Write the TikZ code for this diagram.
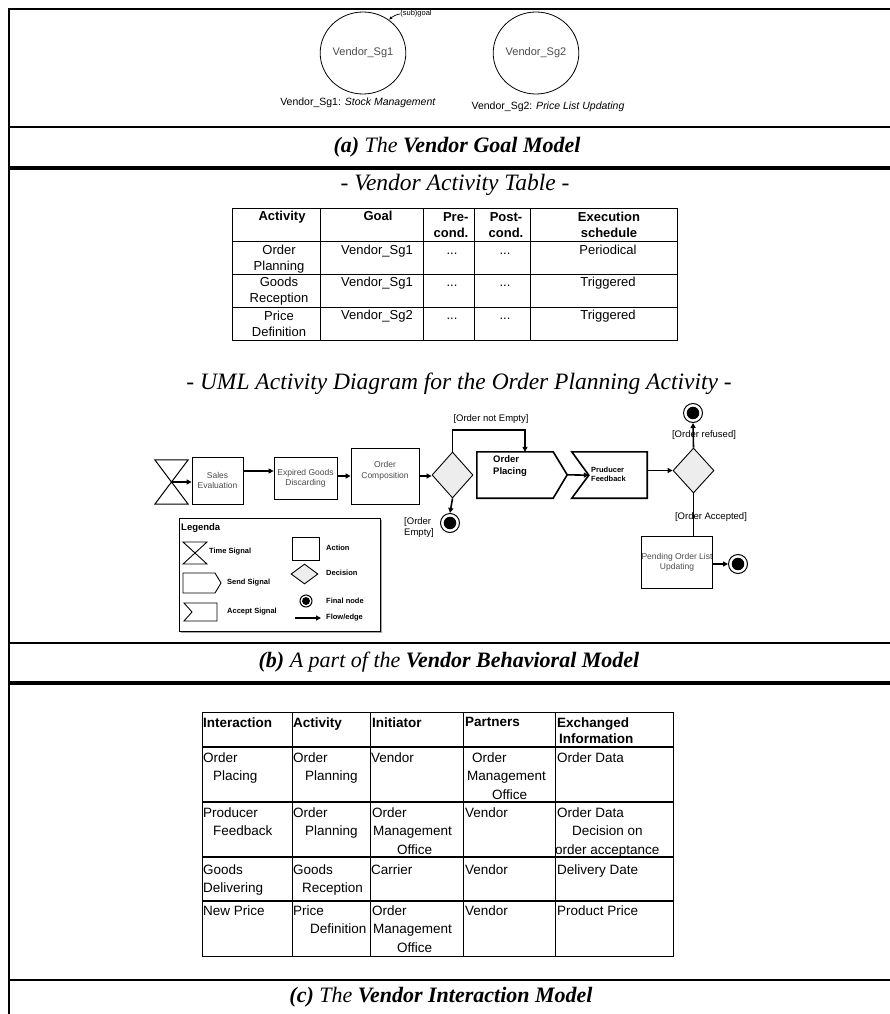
\documentclass[tikz,border=0pt]{standalone}
\usepackage{fontspec}
\setmainfont{Liberation Sans}
\newfontfamily\timesf{Liberation Serif}
\usetikzlibrary{arrows.meta,shapes.geometric,shadows}
\definecolor{decfill}{HTML}{EDEDED}
\definecolor{softtxt}{HTML}{4A4A4A}
\newcommand\myfs[2]{\fontsize{#1}{#2}\selectfont}
\tikzset{
  framethin/.style={line width=1.8pt},
  framethick/.style={line width=4pt},
  capt/.style={inner sep=0, font=\timesf\itshape\myfs{22}{26}},
  subt/.style={inner sep=0, font=\timesf\itshape\myfs{23.5}{28}},
  ta/.style={inner sep=0, font=\myfs{13}{16}, align=center},
  tas/.style={inner sep=0, font=\myfs{13}{16}, text height=9.5pt, text depth=2.7pt},
  tah/.style={inner sep=0, font=\bfseries\myfs{13}{16}, align=center},
  tahs/.style={inner sep=0, font=\bfseries\myfs{13}{16}, text height=9.5pt, text depth=2.7pt},
  tc/.style={inner sep=0, anchor=north west, align=left, font=\myfs{13.5}{18.5}},
  tch/.style={inner sep=0, anchor=north west, align=left, font=\bfseries\myfs{13.5}{15.6}},
  gridln/.style={line width=0.9pt},
  act/.style={draw, line width=0.8pt, inner sep=0, font=\myfs{8.5}{10}, text=softtxt, align=center},
  flow/.style={line width=1.6pt, -{Triangle[length=5pt,width=5pt]}},
  dec/.style={diamond, draw, fill=decfill, line width=0.9pt, inner sep=0},
  fin/.style={circle, draw, line width=1pt, inner sep=0, minimum size=#1,
    path picture={\fill (path picture bounding box.center) circle (0.33*#1);}},
  lbl/.style={inner sep=0, font=\myfs{9.5}{11}},
  legt/.style={inner sep=0, anchor=west, font=\bfseries\myfs{7.5}{9}},
  ghost/.style={inner sep=0, draw=none},
  goal/.style={ellipse, draw, line width=0.8pt, minimum width=80, minimum height=82, inner sep=0, font=\myfs{11}{13}, text=softtxt},
}
\begin{document}
\begin{tikzpicture}[x=1pt,y=-1pt]
\useasboundingbox (0,0) rectangle (890,1014);
% frame
\draw[framethin] (9,8.1) -- (9,1014);
\draw[framethin] (9,9) -- (890,9);
\draw[framethin] (9,127) -- (890,127);
\draw[framethick] (9,168) -- (890,168);
\draw[framethin] (9,643) -- (890,643);
\draw[framethick] (9,683) -- (890,683);
\draw[framethin] (9,980) -- (890,980);

% ---------- (a) goal model
\node[goal] (g1) at (363,53) {Vendor\_Sg1};
\node[goal] (g2) at (536,53) {Vendor\_Sg2};
\node[inner sep=0, font=\myfs{7.5}{9}] (sub) at (416,14) {(sub)goal};
\draw[line width=0.7pt, -{Latex[length=3.5pt,width=3pt]}] (sub.west) .. controls (397,14) and (392,17) .. (g1.52);
\node[inner sep=0, font=\myfs{10.5}{12}] (l1) at (358,103) {Vendor\_Sg1: \textit{Stock Management}};
\node[inner sep=0, font=\myfs{10.5}{12}] (l2) at (548,107) {Vendor\_Sg2: \textit{Price List Updating}};
\node[capt] (capa) at (457,147) {\textbf{(a)} The \textbf{Vendor Goal Model}};

% ---------- (b) activity table
\node[subt] (subA) at (455,185) {- Vendor Activity Table -};
\draw[gridln] (232,208) rectangle (677,340);
\draw[gridln] (232,241) -- (677,241);
\draw[gridln] (232,274) -- (677,274);
\draw[gridln] (232,307) -- (677,307);
\foreach \cx in {320,423,474,530} \draw[gridln] (\cx,208) -- (\cx,340);
\node[tahs] (h1) at (282,217) {Activity};
\node[tahs] (h2) at (378,217) {Goal};
\node[tah, align=right] (h3) at (451,225.3) {Pre-\\cond.};
\node[tah] (h4) at (506,225.3) {Post-\\cond.};
\node[tah] (h5) at (609,225.3) {Execution\\schedule};
\node[ta] (r1a) at (279,258.7) {Order\\Planning};
\node[tas] (r1b) at (377,250.7) {Vendor\_Sg1};
\node[tas] (r1c) at (452,250.7) {...};
\node[tas] (r1d) at (505,250.7) {...};
\node[tas] (r1e) at (608,250.7) {Periodical};
\node[ta] (r2a) at (279,291.3) {Goods\\Reception};
\node[tas] (r2b) at (377,283.3) {Vendor\_Sg1};
\node[tas] (r2c) at (452,283.3) {...};
\node[tas] (r2d) at (505,283.3) {...};
\node[tas] (r2e) at (608,283.3) {Triggered};
\node[ta] (r3a) at (279,324.3) {Price\\Definition};
\node[tas] (r3b) at (377,316) {Vendor\_Sg2};
\node[tas] (r3c) at (452,316) {...};
\node[tas] (r3d) at (505,316) {...};
\node[tas] (r3e) at (608,316) {Triggered};

% ---------- UML activity diagram
\node[subt] (subU) at (459,384) {- UML Activity Diagram for the Order Planning Activity -};
\node[ghost, minimum width=33, minimum height=44] (ts) at (171.5,482) {};
\draw[line width=1pt] (ts.north west) -- (ts.north east) -- (ts.south west) -- (ts.south east) -- cycle;
\node[act, minimum width=51, minimum height=47] (sales) at (217.5,480.5) {Sales\\Evaluation};
\node[act, minimum width=63, minimum height=42] (exp) at (305.5,478) {Expired Goods\\Discarding};
\node[act, minimum width=68, minimum height=56] (oc) at (385,476) {};
\node[inner sep=0, font=\myfs{8.5}{10.5}, text=softtxt, align=center] (oct) at (385,471) {Order\\Composition};
\node[dec, minimum width=41, minimum height=46] (d1) at (452.5,475) {};
\node[ghost, minimum width=76, minimum height=46] (op) at (515,475) {};
\draw[line width=1.6pt] (op.north west) -- (op.north east) -- ++(14,23) coordinate (optip) -- (op.south east) -- (op.south west) -- cycle;
\node[inner sep=0, anchor=north west, align=left, font=\bfseries\myfs{9.5}{11.5}] (opt) at (493,455.5) {Order\\Placing};
\node[ghost, minimum width=75, minimum height=46] (pf) at (609.5,475) {};
\draw[line width=1.6pt] (pf.north west) -- (pf.north east) -- (pf.south east) -- (pf.south west) -- ++(17,-23) coordinate (pfnotch) -- cycle;
\node[inner sep=0, anchor=north west, align=left, font=\bfseries\myfs{7.5}{9}] (pft) at (591,467) {Pruducer\\Feedback};
\node[dec, minimum width=41, minimum height=45] (d2) at (693.5,470.5) {};
\node[fin=19pt] (ftop) at (693,413) {};
\node[fin=19pt] (f1) at (450,523) {};
\node[act, minimum width=70, minimum height=52] (pend) at (677,562) {Pending Order List\\Updating};
\node[fin=19pt] (fpend) at (738,564) {};

\draw[flow] (ts.center) -- (ts.center -| sales.west);
\draw[flow] (sales.east) ++(0,-9.5) coordinate (a1) -- (a1 -| exp.west);
\draw[flow] (exp.east) ++(0,-2) coordinate (a2) -- (a2 -| oc.west);
\draw[flow] (oc.east) -- (oc.east -| d1.west);
\draw[flow] (d1.north) -- (d1.north |- 0,430) -| ([xshift=10pt]op.north);
\draw[flow] (d1.south) -- (f1.north);
\draw[flow] (optip) -- (pfnotch);
\draw[flow] (pf.east |- d2.west) -- (d2.west);
\draw[flow] (d2.north) -- (ftop.south);
\draw[line width=1.6pt] (d2.south) -- (d2.south |- pend.north);
\draw[flow] (pend.east |- fpend.west) -- (fpend.west);

\node[lbl] (lne) at (491,419) {[Order not Empty]};
\node[lbl, align=left] (le) at (419,528) {[Order\\Empty]};
\node[lbl] (lrf) at (704,435) {[Order refused]};
\node[lbl] (lac) at (711,517) {[Order Accepted]};

% legend
\node[draw, line width=0.8pt, fill=white, minimum width=201, minimum height=113, inner sep=0,
  drop shadow={shadow xshift=2pt, shadow yshift=-2pt, fill=gray!70, opacity=1}] (leg) at (279.5,574.5) {};
\node[inner sep=0, anchor=west, font=\bfseries\myfs{9.5}{11}] (legt0) at (181,528) {Legenda};
\draw[line width=0.9pt] (183,542) -- (207,542) -- (183,564) -- (207,564) -- cycle;
\node[legt] (legt1) at (209,552) {Time Signal};
\draw[line width=0.9pt] (183,573) -- (215,573) -- (221,583) -- (215,593) -- (183,593) -- cycle;
\node[legt] (legt2) at (227,583) {Send Signal};
\draw[line width=0.9pt] (184,603) -- (217,603) -- (217,621) -- (184,621) -- (192,612) -- cycle;
\node[legt] (legt3) at (227,612) {Accept Signal};
\draw[line width=0.8pt] (292,537) rectangle (319,560);
\node[legt] (legt4) at (326,548) {Action};
\node[dec, minimum width=27, minimum height=20] (legd) at (304.5,574) {};
\node[legt] (legt5) at (326,573) {Decision};
\node[fin=12pt] (legf) at (306,601) {};
\node[legt] (legt6) at (326,601) {Final node};
\coordinate (legfa) at (295,618);
\coordinate (legfb) at (321,618);
\draw[flow] (legfa) -- (legfb);
\node[legt] (legt7) at (326,618) {Flow/edge};

\node[capt] (capb) at (449,662) {\textbf{(b)} A part of the \textbf{Vendor Behavioral Model}};

% ---------- (c) interaction table
\draw[line width=1pt] (202,712) rectangle (673,956);
\foreach \ry in {747,802,857,901} \draw[line width=2pt] (202,\ry) -- (673,\ry);
\foreach \cx in {292,370,463,555} \draw[line width=1pt] (\cx,712) -- (\cx,956);
\node[tch] (c01) at (203,717.5) {Interaction};
\node[tch] (c02) at (293,717.5) {Activity};
\node[tch] (c03) at (372,717.5) {Initiator};
\node[tch] (c04) at (465,717.5) {Partners};
\node[tch] (c05) at (557,717.5) {Exchanged\\\hspace*{2pt}Information};
\node[tc] (c11) at (203,752.5) {Order\\\hspace*{10pt}Placing};
\node[tc] (c12) at (293,752.5) {Order\\\hspace*{12pt}Planning};
\node[tc] (c13) at (371,752.5) {Vendor};
\node[tc] (c14) at (467,752.5) {\hspace*{5pt}Order\\Management\\\hspace*{25pt}Office};
\node[tc] (c15) at (557,752.5) {Order Data};
\node[tc] (c21) at (203,807.5) {Producer\\\hspace*{10pt}Feedback};
\node[tc] (c22) at (293,807.5) {Order\\\hspace*{12pt}Planning};
\node[tc] (c23) at (372,807.5) {Order\\\hspace*{1pt}Management\\\hspace*{25pt}Office};
\node[tc] (c24) at (465,807.5) {Vendor};
\node[tc] (c25) at (555,807.5) {\hspace*{2pt}Order Data\\\hspace*{17pt}Decision on\\order acceptance};
\node[tc] (c31) at (203,864.5) {Goods\\Delivering};
\node[tc] (c32) at (293,864.5) {Goods\\\hspace*{9pt}Reception};
\node[tc] (c33) at (371,864.5) {Carrier};
\node[tc] (c34) at (465,864.5) {Vendor};
\node[tc] (c35) at (557,864.5) {Delivery Date};
\node[tc] (c41) at (203,905.5) {New Price};
\node[tc] (c42) at (293,905.5) {Price\\\hspace*{17pt}Definition};
\node[tc] (c43) at (372,905.5) {Order\\\hspace*{1pt}Management\\\hspace*{25pt}Office};
\node[tc] (c44) at (465,905.5) {Vendor};
\node[tc] (c45) at (557,905.5) {Product Price};

\node[capt] (capc) at (441,997) {\textbf{(c)} The \textbf{Vendor Interaction Model}};
\end{tikzpicture}
\end{document}
